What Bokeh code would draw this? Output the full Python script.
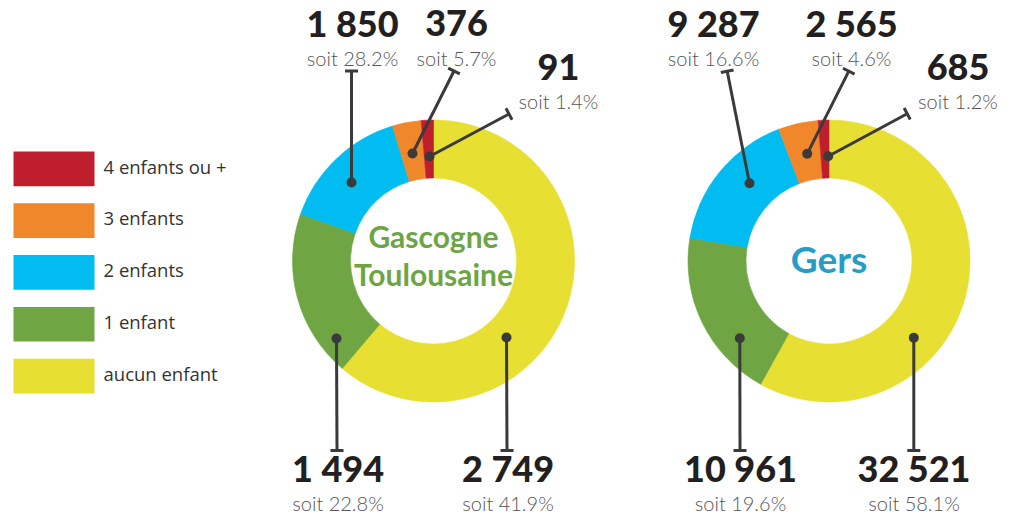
import numpy as np
from bokeh.plotting import figure
from bokeh.models import Range1d, ColumnDataSource
from bokeh.core.properties import value
from bokeh.embed import file_html
from bokeh.resources import INLINE

# ---------------- data ----------------
# ring order: clockwise from 12 o'clock
categories = ["aucun enfant", "1 enfant", "2 enfants", "3 enfants", "4 enfants ou +"]
cat_colors = ["#E8DF33", "#6FA543", "#00BCF1", "#F0872A", "#BE1E2D"]
legend_order = ["4 enfants ou +", "3 enfants", "2 enfants", "1 enfant", "aucun enfant"]

gascogne_counts = [2749, 1494, 1850, 376, 91]
gascogne_pct = ["41.9", "22.8", "28.2", "5.7", "1.4"]
gascogne_drawn_share = [61.2, 19.2, 14.9, 3.3, 1.4]

gers_counts = [32521, 10961, 9287, 2565, 685]
gers_pct = ["58.1", "19.6", "16.6", "4.6", "1.2"]

titles = [["Gascogne", "Toulousaine"], ["Gers"]]
title_colors = ["#6DA544", "#259DC5"]

# ---------------- layout (page pixels) ----------------
W, H = 1016, 516
INNER_R, OUTER_R = 83, 141
BASE_FIX = 0.42  # em shift so that text baselines land where wanted
donuts = [
    dict(center=(433, 260.5),
         dot=[(506, 337), (336, 338), (351, 182), (412, 153), (429, 156)],
         tee=[(506.5, 450), (336.5, 450), (351, 70.5), (453.5, 70.5), (508.5, 113.5)],
         label_x=[507.5, 337.5, 352, 456, 558],
         label_base=[483, 483, 38, 38, 81.5],
         title_base=[248, 286], title_size=30),
    dict(center=(828.5, 260.5),
         dot=[(913.3, 337.3), (739.3, 337.7), (749, 182.7), (806.7, 153.3), (827.7, 155.7)],
         tee=[(913.3, 450), (739.5, 450), (726.7, 70.7), (848.3, 70.7), (906.7, 113.3)],
         label_x=[913.5, 740, 713, 851, 957.5],
         label_base=[483, 483, 38, 38, 81.5],
         title_base=[274], title_size=37),
]


def fmt(n):
    return f"{n:,}".replace(",", " ")


def ty(base, size):
    return -(base - BASE_FIX * size)


p = figure(width=W, height=H, output_backend="svg", toolbar_location=None,
           x_range=Range1d(0, W), y_range=Range1d(-H, 0),
           x_axis_type=None, y_axis_type=None, min_border=0)
p.grid.visible = False
p.outline_line_color = None
p.background_fill_color = "white"
p.border_fill_color = "white"

shares = [np.array(gascogne_drawn_share, float), np.array(gers_counts, float)]
counts = [gascogne_counts, gers_counts]
pcts = [gascogne_pct, gers_pct]

LINE_COL = "#3A3A3A"
NUM_SIZE, PCT_SIZE, LEG_SIZE = 36, 20, 18.5
for k, d in enumerate(donuts):
    s = shares[k] / shares[k].sum() * 360.0
    ends = np.cumsum(s)
    starts = ends - s
    cx, cy = d["center"]
    src = ColumnDataSource(dict(
        start=np.radians(90 - starts), end=np.radians(90 - ends), color=cat_colors,
        cat=categories))
    p.annular_wedge(x=cx, y=-cy, inner_radius=INNER_R, outer_radius=OUTER_R,
                    start_angle="start", end_angle="end", direction="clock",
                    fill_color="color", line_color="color", line_width=0.6, source=src)

    # titles in the hole
    for t, b in zip(titles[k], d["title_base"]):
        p.text(x=[cx], y=[ty(b, d["title_size"])], text=[t], text_font=value("Lato"),
               text_font_style="bold", text_font_size=f"{d['title_size']}px",
               text_color=title_colors[k], text_align="center", text_baseline="alphabetic")

    # leader lines
    dots = np.array(d["dot"], float)
    tees = np.array(d["tee"], float)
    vec = tees - dots
    unit = vec / np.linalg.norm(vec, axis=1)[:, None]
    perp = np.column_stack([-unit[:, 1], unit[:, 0]]) * 6.5
    p.segment(x0=dots[:, 0], y0=-dots[:, 1], x1=tees[:, 0], y1=-tees[:, 1],
              line_color=LINE_COL, line_width=3)
    p.segment(x0=tees[:, 0] - perp[:, 0], y0=-(tees[:, 1] - perp[:, 1]),
              x1=tees[:, 0] + perp[:, 0], y1=-(tees[:, 1] + perp[:, 1]),
              line_color=LINE_COL, line_width=3)
    p.scatter(x=dots[:, 0], y=-dots[:, 1], size=10, marker="circle",
              fill_color=LINE_COL, line_color=None)

    # number + percentage labels
    lx = d["label_x"]
    lb = np.array(d["label_base"], float)
    p.text(x=lx, y=ty(lb, NUM_SIZE), text=[fmt(c) for c in counts[k]],
           text_font=value("Lato Black"), text_font_size=f"{NUM_SIZE}px", text_color="#231F20",
           text_align="center", text_baseline="alphabetic")
    p.text(x=lx, y=ty(lb + 27.5, PCT_SIZE), text=[f"soit {v}%" for v in pcts[k]],
           text_font=value("Lato Light"), text_font_size=f"{PCT_SIZE}px", text_color="#555555",
           text_align="center", text_baseline="alphabetic")

# legend
col_of = dict(zip(categories, cat_colors))
idx = np.arange(len(legend_order))
tops = 151 + 51.8 * idx
p.quad(left=13, right=94, top=-tops, bottom=-(tops + 34.7),
       fill_color=[col_of[c] for c in legend_order], line_color=None)
p.text(x=103, y=ty(tops + 22.3, LEG_SIZE), text=legend_order, text_font=value("Open Sans"),
       text_font_size=f"{LEG_SIZE}px", text_color="#333333", text_align="left",
       text_baseline="alphabetic")

open("out.html", "w").write(file_html(p, INLINE))
